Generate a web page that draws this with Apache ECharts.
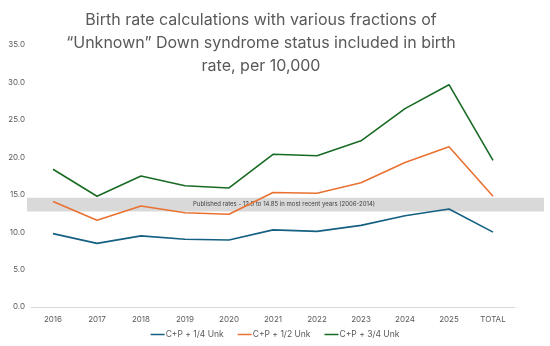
<!DOCTYPE html>
<html><head><meta charset="utf-8">
<script src="https://cdn.jsdelivr.net/npm/echarts@6/dist/echarts.min.js"></script>
<style>html,body{margin:0;padding:0;background:#fff}#c{width:550px;height:346px}</style>
</head><body><div id="c"></div>
<script>
const categories = ["2016","2017","2018","2019","2020","2021","2022","2023","2024","2025","TOTAL"];
const quarterUnk = [9.8, 8.5, 9.5, 9.05, 8.95, 10.3, 10.1, 10.9, 12.2, 13.1, 10.0];
const halfUnk = [14.1, 11.6, 13.5, 12.6, 12.4, 15.3, 15.2, 16.6, 19.3, 21.4, 14.8];
const threeQuarterUnk = [18.4, 14.8, 17.5, 16.2, 15.9, 20.4, 20.2, 22.2, 26.5, 29.7, 19.6];
const seriesNames = ["C+P + 1/4 Unk", "C+P + 1/2 Unk", "C+P + 3/4 Unk"];
const bandRange = [12.75, 14.6];
const bandLabel = "Published rates - 12.5 to 14.85 in most recent years (2006-2014)";
const titleText = "Birth rate calculations with various fractions of\n\u201cUnknown\u201d Down syndrome status included in birth\nrate, per 10,000";

const chart = echarts.init(document.getElementById('c'));
const font = 'Inter, "Noto Sans", sans-serif';
const colors = ['#156082', '#E97132', '#196B24'];
const mk = (name, data, color) => ({
  name, type: 'line', data, symbol: 'none', smooth: false,
  lineStyle: { width: 1.6, color }, itemStyle: { color }, z: 3
});
chart.setOption({
  animation: false,
  title: { text: titleText, left: 256, textAlign: 'center', top: 4,
    textStyle: { fontFamily: font, fontSize: 16, fontWeight: 'normal', color: '#595959', lineHeight: 23 } },
  grid: { left: 31, right: 35, top: 45, bottom: 39 },
  legend: { bottom: 2, left: 'center', icon: 'rect', itemWidth: 14, itemHeight: 1.5, itemGap: 14,
    textStyle: { fontFamily: font, fontSize: 8.5, color: '#595959', padding: [0,0,0,-4] },
    data: seriesNames },
  xAxis: { type: 'category', data: categories, boundaryGap: true,
    axisLine: { lineStyle: { color: '#d9d9d9' } }, axisTick: { show: false },
    axisLabel: { fontFamily: font, fontSize: 8, color: '#595959', margin: 9 } },
  yAxis: { type: 'value', min: 0, max: 35, interval: 5,
    splitLine: { show: false }, axisLine: { show: false }, axisTick: { show: false },
    axisLabel: { fontFamily: font, fontSize: 8, color: '#595959', margin: 6,
      formatter: v => v.toFixed(1) } },
  series: [mk(seriesNames[0], quarterUnk, colors[0]), mk(seriesNames[1], halfUnk, colors[1]), mk(seriesNames[2], threeQuarterUnk, colors[2])]
});
const yTop = chart.convertToPixel({ yAxisIndex: 0 }, bandRange[1]);
const yBot = chart.convertToPixel({ yAxisIndex: 0 }, bandRange[0]);
chart.setOption({
  graphic: [
    { type: 'rect', shape: { x: 27, y: yTop, width: 517, height: yBot - yTop }, style: { fill: '#d9d9d9' }, z: 1, silent: true },
    { type: 'text', x: 193, y: (yTop + yBot) / 2, z: 2, silent: true,
      style: { text: bandLabel, fontFamily: font, fontSize: 6, fill: '#404040', verticalAlign: 'middle' } }
  ]
});
</script></body></html>
